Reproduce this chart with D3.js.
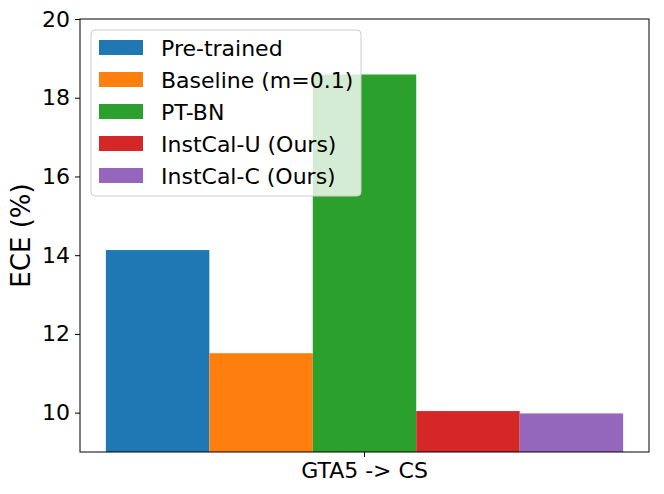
<!DOCTYPE html>
<html><head><meta charset="utf-8">
<script src="https://cdn.jsdelivr.net/npm/d3@7"></script>
<style>body{margin:0;background:#fff}svg{display:block}</style>
</head><body>
<script>
const categories = ["GTA5 -> CS"];
const seriesNames = ["Pre-trained", "Baseline (m=0.1)", "PT-BN", "InstCal-U (Ours)", "InstCal-C (Ours)"];
const seriesValues = [14.13, 11.51, 18.59, 10.04, 9.98];
const colors = ["#1f77b4", "#ff7f0e", "#2ca02c", "#d62728", "#9467bd"];
const yTicks = [10, 12, 14, 16, 18, 20];

const W = 664, H = 494;
const m = {left: 80, right: 649, top: 19, bottom: 452};
const svg = d3.select("body").append("svg").attr("width", W).attr("height", H);
const font = "DejaVu Sans, sans-serif";

const barW = 0.2;
const x = d3.scaleLinear().domain([-0.55, 0.55]).range([m.left, m.right]);
const y = d3.scaleLinear().domain([9, 20]).range([m.bottom, m.top]);

// bars
svg.append("g").selectAll("rect").data(seriesValues).join("rect")
  .attr("x", (d, i) => x((i - 2) * barW - barW / 2))
  .attr("width", (d, i) => x((i - 2) * barW + barW / 2) - x((i - 2) * barW - barW / 2))
  .attr("y", d => y(d))
  .attr("height", d => y(9) - y(d))
  .attr("fill", (d, i) => colors[i]);

// axes
const yAxis = d3.axisLeft(y).tickValues(yTicks).tickSize(5).tickPadding(5).tickFormat(d3.format("d"));
const gy = svg.append("g").attr("transform", `translate(${m.left},0)`).call(yAxis);
gy.select(".domain").remove();
gy.selectAll("line").attr("stroke", "#000").attr("stroke-width", 1);
gy.selectAll("text").attr("font-family", font).attr("font-size", 22).attr("fill", "#000");

const xb = d3.scaleBand().domain(categories).range([m.left, m.right]);
const xAxis = d3.axisBottom(xb).tickSize(5).tickPadding(5);
const gx = svg.append("g").attr("transform", `translate(0,${m.bottom})`).call(xAxis);
gx.select(".domain").remove();
gx.selectAll("line").attr("stroke", "#000").attr("stroke-width", 1);
gx.selectAll("text").attr("font-family", font).attr("font-size", 22).attr("fill", "#000");

// y label
svg.append("text").attr("transform", `translate(30,${(m.top + m.bottom) / 2}) rotate(-90)`)
  .attr("text-anchor", "middle").attr("font-family", font).attr("font-size", 26)
  .text("ECE (%)");

// legend
const lg = svg.append("g");
lg.append("rect").attr("x", 91).attr("y", 30).attr("width", 270).attr("height", 166)
  .attr("rx", 4).attr("fill", "#fff").attr("fill-opacity", 0.8)
  .attr("stroke", "#cccccc").attr("stroke-width", 1);
const items = lg.selectAll("g.item").data(seriesNames).join("g").attr("class", "item")
  .attr("transform", (d, i) => `translate(0,${47.5 + 32 * i})`);
items.append("rect").attr("x", 99).attr("y", -7.5).attr("width", 44).attr("height", 15)
  .attr("fill", (d, i) => colors[i]);
items.append("text").attr("x", 161).attr("y", 8).attr("font-family", font).attr("font-size", 22)
  .attr("fill", "#000").text(d => d);

// spines
svg.append("rect").attr("x", m.left).attr("y", m.top).attr("width", m.right - m.left)
  .attr("height", m.bottom - m.top).attr("fill", "none").attr("stroke", "#000").attr("stroke-width", 1);
</script>
</body></html>
